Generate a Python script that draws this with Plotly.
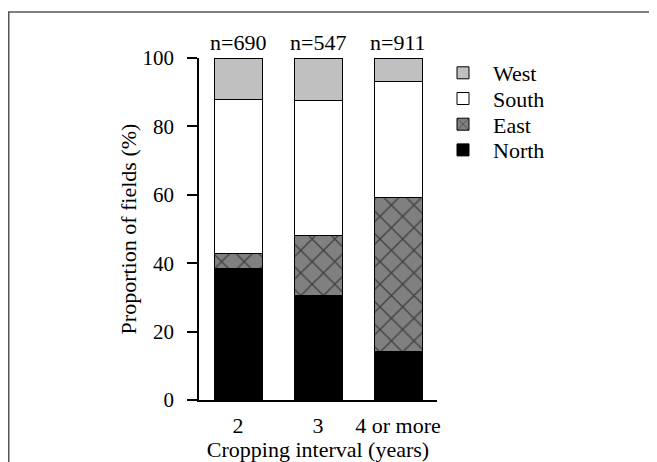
import plotly.graph_objects as go

categories = ["2", "3", "4 or more"]
sample_sizes = ["n=690", "n=547", "n=911"]
north = [38.5, 30.7, 14.3]
east = [4.4, 17.3, 45.0]
south = [45.0, 39.7, 33.8]
west = [12.1, 12.3, 6.9]
series_names = ["North", "East", "South", "West"]

FONT = "Liberation Serif, Times New Roman, Times, serif"
FS = 22

W, H = 649, 454
L, R, T, B = 191, 220, 50, 62
pw, ph = W - L - R, H - T - B

styles = {
    "North": dict(color="#000000"),
    "East": dict(color="#808080",
                 pattern=dict(shape="x", fgcolor="#000000", bgcolor="#808080",
                              size=16, solidity=0.16)),
    "South": dict(color="#ffffff"),
    "West": dict(color="#c0c0c0"),
}
values = {"North": north, "East": east, "South": south, "West": west}
legend_rows = {"West": 0, "South": 1, "East": 2, "North": 3}

fig = go.Figure()
legends = {}
for k, name in enumerate(series_names):
    lg = "legend" if k == 0 else f"legend{k + 1}"
    fig.add_trace(go.Bar(name=name, x=categories, y=values[name], legend=lg,
                         marker=dict(line=dict(color="#000000", width=1), **styles[name])))
    row_y = 65 + 25.7 * legend_rows[name]
    legends[lg] = dict(x=(425 - L) / pw, y=(H - B - row_y) / ph,
                       xanchor="left", yanchor="middle",
                       font=dict(family=FONT, size=FS),
                       bgcolor="rgba(0,0,0,0)", itemwidth=50)

for i, (n, a, b, s, w) in enumerate(zip(sample_sizes, north, east, south, west)):
    fig.add_annotation(x=i, y=a + b + s + w, text=n, showarrow=False,
                       yshift=16, font=dict(family=FONT, size=FS, color="#000"))

# outer frame (top and left edges visible)
fig.add_shape(type="rect", xref="paper", yref="paper",
              x0=(0.75 - L) / pw, x1=(W + 20 - L) / pw,
              y0=(H - B - (H + 20)) / ph, y1=(H - B - 4) / ph,
              line=dict(color="#555555", width=1.5), fillcolor="rgba(0,0,0,0)")

fig.update_layout(
    width=W, height=H,
    margin=dict(l=L, r=R, t=T, b=B, autoexpand=False),
    barmode="stack", bargap=0.4,
    plot_bgcolor="#ffffff", paper_bgcolor="#ffffff",
    font=dict(family=FONT, size=FS, color="#000"),
    showlegend=True,
    xaxis=dict(range=[-0.4875, 2.4875], showline=True, linecolor="#000", linewidth=1.5,
               ticks="", showgrid=False, zeroline=False, ticklabelstandoff=5,
               title=dict(text="Cropping interval (years)", standoff=4,
                          font=dict(family=FONT, size=FS))),
    yaxis=dict(range=[0, 100], tickvals=[0, 20, 40, 60, 80, 100], showline=True,
               linecolor="#000", linewidth=1.5, ticks="outside", ticklen=10,
               tickwidth=1.5, tickcolor="#000", showgrid=False, zeroline=False,
               ticklabelstandoff=9, tickfont=dict(family=FONT, size=21),
               title=dict(text="Proportion of fields (%)", standoff=0,
                          font=dict(family=FONT, size=FS))),
)
fig.update_layout(**legends)

fig.write_html("out.html")
